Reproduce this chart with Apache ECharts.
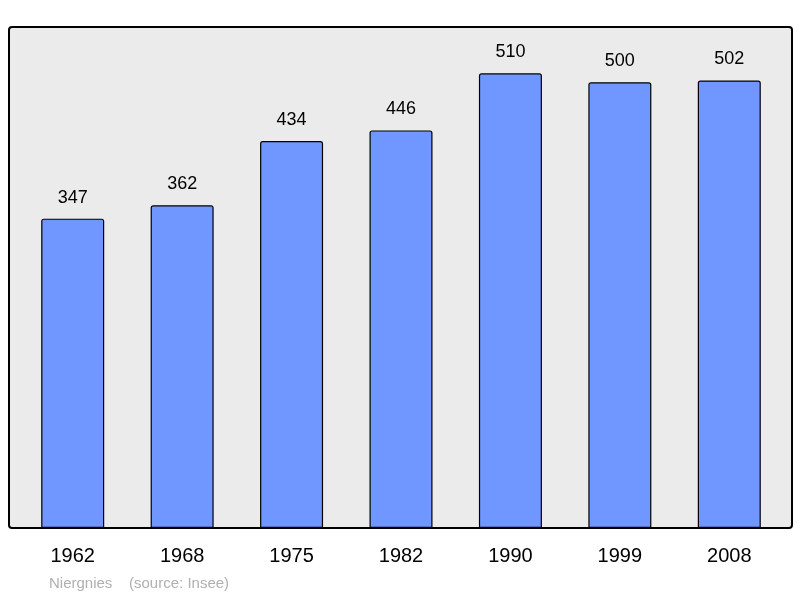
<!DOCTYPE html>
<html>
<head>
<meta charset="utf-8">
<script src="https://cdn.jsdelivr.net/npm/echarts@6/dist/echarts.min.js"></script>
<style>html,body{margin:0;padding:0;background:#fff}#chart{width:800px;height:598px}</style>
</head>
<body>
<div id="chart"></div>
<script>
// données population
var years = ['1962', '1968', '1975', '1982', '1990', '1999', '2008'];
var population = [347, 362, 434, 446, 510, 500, 502];

var chart = echarts.init(document.getElementById('chart'));
chart.setOption({
    animation: false,
    textStyle: { fontFamily: 'Liberation Sans' },
    graphic: [
        {
            type: 'rect', z: 0,
            shape: { x: 9, y: 27, width: 783, height: 501, r: 3 },
            style: { fill: '#ebebeb', stroke: '#000', lineWidth: 2 }
        },
        {
            type: 'text', left: 49, top: 576,
            style: { text: 'Niergnies    (source: Insee)', fill: '#b0b0b0', fontSize: 15, fontFamily: 'Liberation Sans' }
        }
    ],
    grid: { left: 18, right: 16, top: 27, bottom: 70 },
    xAxis: {
        type: 'category',
        data: years,
        axisLine: { show: false },
        axisTick: { show: false },
        axisLabel: { color: '#000', fontSize: 20, margin: 18 }
    },
    yAxis: {
        type: 'value', min: 0, max: 562,
        show: false, splitLine: { show: false }
    },
    series: [{
        type: 'bar',
        data: population,
        barWidth: 63,
        z: 5,
        itemStyle: { color: '#7097ff', borderColor: '#000', borderWidth: 1.2, borderRadius: [2, 2, 0, 0] },
        label: { show: true, position: 'top', distance: 12, color: '#000', fontSize: 18 }
    }]
});
</script>
</body>
</html>
